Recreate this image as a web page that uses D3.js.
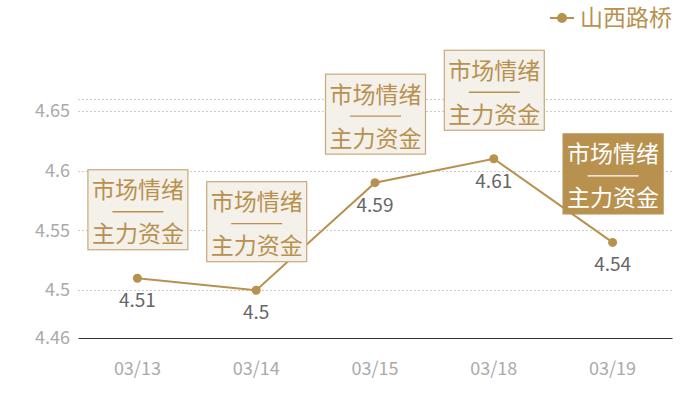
<!DOCTYPE html>
<html>
<head>
<meta charset="utf-8">
<script src="https://cdn.jsdelivr.net/npm/d3@7"></script>
<style>
  body { margin: 0; background: #fff; }
  text { font-family: "Noto Sans CJK SC", "Noto Sans", sans-serif; }
</style>
</head>
<body>
<div id="chart"></div>
<script>
// data
var dates = ["03/13", "03/14", "03/15", "03/18", "03/19"];
var prices = [4.51, 4.5, 4.59, 4.61, 4.54];
var yTicks = [4.46, 4.5, 4.55, 4.6, 4.65];
var seriesName = "山西路桥";
var noteTop = "市场情绪";
var noteBottom = "主力资金";
var highlight = 4; // last box is filled

var width = 700, height = 400;
var padL = 78, padR = 672, padT = 99, padB = 338;
var gold = "#b8914f";

var svg = d3.select("#chart").append("svg")
  .attr("width", width)
  .attr("height", height);

var x = d3.scaleBand().domain(dates).range([padL, padR]);
var y = d3.scaleLinear().domain([4.46, 4.66]).range([padB, padT]);

// grid lines (dotted) incl. the max line at top
var gridVals = yTicks.slice(1).concat([4.66]);
svg.append("g").selectAll("line").data(gridVals).enter()
  .append("line")
  .attr("x1", padL).attr("x2", padR)
  .attr("y1", function(d) { return Math.round(y(d)) + 0.5; })
  .attr("y2", function(d) { return Math.round(y(d)) + 0.5; })
  .attr("stroke", "#ccc")
  .attr("stroke-dasharray", "2,2");

// y axis labels
var yAxis = d3.axisLeft(y).tickValues(yTicks).tickSize(0).tickPadding(8)
  .tickFormat(function(d) { return String(d); });
var yg = svg.append("g").attr("transform", "translate(" + padL + ",0)").call(yAxis);
yg.select(".domain").remove();
yg.selectAll("text").attr("fill", "#aaa").attr("font-size", 18)
  .style("font-family", "'Noto Sans CJK SC', sans-serif");

// x axis
var xAxis = d3.axisBottom(x).tickSize(0).tickPadding(24);
var xg = svg.append("g").attr("transform", "translate(0," + padB + ")").call(xAxis);
xg.select(".domain").attr("stroke", "#333").attr("stroke-width", 1.2);
xg.selectAll("text").attr("fill", "#aaa").attr("font-size", 18)
  .style("font-family", "'Noto Sans CJK SC', sans-serif");

function cx(d) { return x(d) + x.bandwidth() / 2; }

// line
var line = d3.line()
  .x(function(d, i) { return cx(dates[i]); })
  .y(function(d) { return y(d); });

svg.append("path")
  .datum(prices)
  .attr("d", line)
  .attr("fill", "none")
  .attr("stroke", gold)
  .attr("stroke-width", 2);

svg.append("g").selectAll("circle").data(prices).enter()
  .append("circle")
  .attr("cx", function(d, i) { return cx(dates[i]); })
  .attr("cy", function(d) { return y(d); })
  .attr("r", 4.5)
  .attr("fill", gold);

// value labels under points
svg.append("g").selectAll("text").data(prices).enter()
  .append("text")
  .attr("x", function(d, i) { return cx(dates[i]); })
  .attr("y", function(d) { return y(d) + 29; })
  .attr("text-anchor", "middle")
  .attr("font-size", 19)
  .attr("fill", "#666")
  .text(function(d) { return String(d); });

// annotation boxes above points
var boxW = 100, boxH = 80;
var notes = svg.append("g").selectAll("g").data(prices).enter()
  .append("g")
  .attr("transform", function(d, i) {
    return "translate(" + (cx(dates[i]) - boxW / 2) + "," + (y(d) - 29 - boxH) + ")";
  });

notes.append("rect")
  .attr("x", 0.5).attr("y", 0.5)
  .attr("width", boxW).attr("height", boxH)
  .attr("fill", function(d, i) { return i === highlight ? gold : "#f4f0ea"; })
  .attr("stroke", function(d, i) { return i === highlight ? gold : "#c9a978"; })
  .attr("stroke-width", 1.2);

var txtCol = function(d, i) { return i === highlight ? "#fff" : gold; };

notes.append("text")
  .attr("x", boxW / 2 + 0.5).attr("y", 29)
  .attr("text-anchor", "middle")
  .attr("font-size", 23)
  .attr("fill", txtCol)
  .text(noteTop);

// thin separator between the two rows
notes.append("line")
  .attr("x1", boxW / 2 - 25).attr("x2", boxW / 2 + 26)
  .attr("y1", 42.5).attr("y2", 42.5)
  .attr("stroke", txtCol)
  .attr("stroke-width", 1.3);

notes.append("text")
  .attr("x", boxW / 2 + 0.5).attr("y", 73)
  .attr("text-anchor", "middle")
  .attr("font-size", 23)
  .attr("fill", txtCol)
  .text(noteBottom);

// legend
var lg = svg.append("g").attr("transform", "translate(550,18)");
lg.append("line").attr("x1", 0).attr("x2", 24).attr("y1", 0).attr("y2", 0)
  .attr("stroke", gold).attr("stroke-width", 2);
lg.append("circle").attr("cx", 12).attr("cy", 0).attr("r", 5).attr("fill", gold);
lg.append("text").attr("x", 30).attr("y", 8)
  .attr("font-size", 23).attr("fill", gold).text(seriesName);
</script>
</body>
</html>
